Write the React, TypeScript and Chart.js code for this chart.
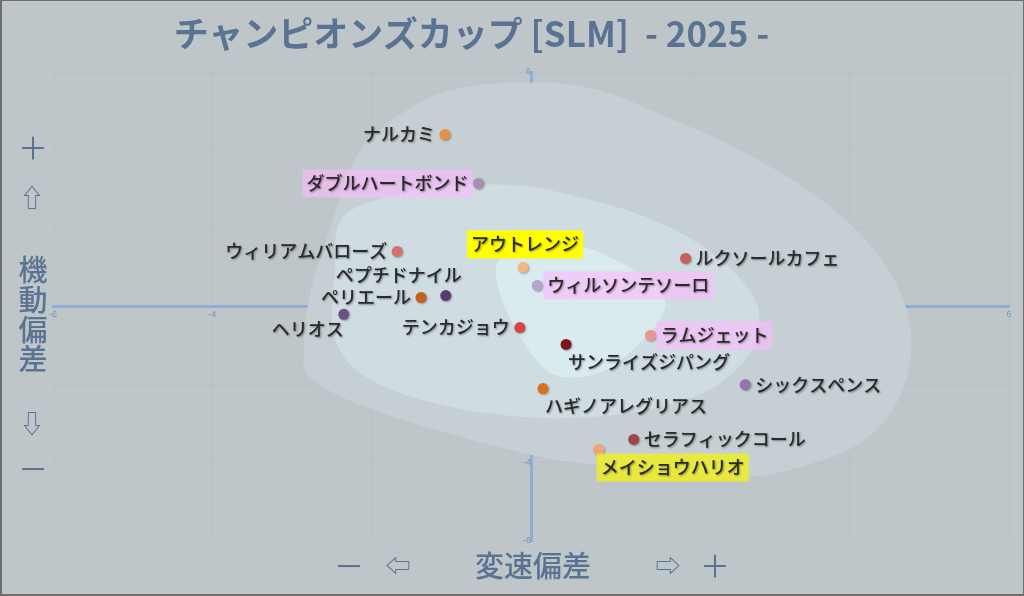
import { useEffect, useRef } from "react"
import { Chart, registerables } from "chart.js"

Chart.register(...registerables)

// horses: name, x = 変速偏差, y = 機動偏差
const names = [
  "ナルカミ", "ダブルハートボンド", "ウィリアムバローズ", "アウトレンジ",
  "ルクソールカフェ", "ウィルソンテソーロ", "ペプチドナイル", "ペリエール",
  "ヘリオス", "テンカジョウ", "ラムジェット", "サンライズジパング",
  "シックスペンス", "ハギノアレグリアス", "セラフィックコール", "メイショウハリオ",
]
const xs = [-1.08, -0.66, -1.68, -0.1, 1.94, 0.08, -1.07, -1.38, -2.35, -0.14, 1.5, 0.44, 2.69, 0.15, 1.29, 0.85]
const ys = [4.4, 3.15, 1.41, 1.0, 1.23, 0.54, 0.28, 0.23, -0.2, -0.54, -0.74, -0.97, -2.0, -2.1, -3.4, -3.66]
const pointColors = [
  "#E39049", "#A88DB4", "#D27371", "#F5B482", "#C9605E", "#B8A4CC", "#5A3B69", "#C8611C",
  "#6C5283", "#D44545", "#EB9590", "#7A1717", "#9474AC", "#D6711F", "#A34343", "#EBA778",
]
const placements = [
  "left", "left", "left", "above", "right", "right", "aboveLeft", "left",
  "belowLeft", "left", "right", "belowRight", "right", "belowRight", "right", "belowRight",
]
const highlights = [
  "", "rgba(255,185,255,0.6)", "", "#FFFF00", "", "rgba(255,185,255,0.6)", "", "",
  "", "", "rgba(255,185,255,0.6)", "", "", "", "", "rgba(240,240,30,0.8)",
]

// density contours (outer -> inner)
const outerX = [0.05, -0.98, -1.74, -2.21, -2.51, -2.77, -2.85, -2.74, -1.89, -0.01, 1.03, 2.28, 3.12, 4.14, 4.65, 4.76, 4.4, 3.64, 2.61, 1.58, 0.82]
const outerY = [5.73, 5.55, 4.78, 3.76, 2.05, 0.36, -1.1, -1.87, -2.71, -3.79, -4.09, -4.35, -4.25, -3.48, -2.2, -0.51, 1.2, 2.74, 4.02, 4.96, 5.55]
const middleX = [-2.33, -1.39, -0.39, 0.36, 1.37, 2.12, 2.69, 2.87, 2.69, 2.12, 1.12, -0.01, -1.14, -2.02, -2.46, -2.46]
const middleY = [2.35, 2.99, 3.12, 2.92, 2.35, 1.59, 0.56, -0.33, -1.36, -2.25, -2.76, -2.84, -2.51, -1.87, -0.84, 0.95]
const innerX = [-0.39, 0.03, 0.65, 1.28, 1.66, 1.62, 1.28, 0.87, 0.36, 0.03, -0.3, -0.43]
const innerY = [1.2, 1.66, 1.53, 0.95, 0.26, -0.33, -1.1, -1.69, -1.79, -1.28, -0.15, 0.69]
const contourColors = ["#C6D0D4", "#CFDCE1", "#DAEBF0"]

const TEXT = "#5B7393"
const LABEL_FONT = "500 18px 'Noto Sans CJK JP', sans-serif"

const contourPlugin = {
  id: "contours",
  beforeDatasetsDraw(chart: any) {
    const { ctx, chartArea, scales } = chart
    const shapes = [
      [outerX, outerY],
      [middleX, middleY],
      [innerX, innerY],
    ]
    ctx.save()
    ctx.beginPath()
    ctx.rect(chartArea.left, chartArea.top, chartArea.right - chartArea.left, chartArea.bottom - chartArea.top)
    ctx.clip()
    shapes.forEach(([sx, sy], k) => {
      const pts = sx.map((v, i) => [scales.x.getPixelForValue(v), scales.y.getPixelForValue(sy[i])])
      const n = pts.length
      ctx.beginPath()
      ctx.moveTo(pts[0][0], pts[0][1])
      for (let i = 0; i < n; i++) {
        const p0 = pts[(i - 1 + n) % n]
        const p1 = pts[i]
        const p2 = pts[(i + 1) % n]
        const p3 = pts[(i + 2) % n]
        ctx.bezierCurveTo(
          p1[0] + (p2[0] - p0[0]) / 6, p1[1] + (p2[1] - p0[1]) / 6,
          p2[0] - (p3[0] - p1[0]) / 6, p2[1] - (p3[1] - p1[1]) / 6,
          p2[0], p2[1]
        )
      }
      ctx.closePath()
      ctx.fillStyle = contourColors[k]
      ctx.fill()
    })
    ctx.restore()
  },
}

const labelPlugin = {
  id: "pointLabels",
  afterDatasetsDraw(chart: any) {
    const { ctx } = chart
    const meta = chart.getDatasetMeta(0)
    ctx.save()
    ctx.font = LABEL_FONT
    ctx.textBaseline = "middle"
    names.forEach((name, i) => {
      const el = meta.data[i]
      const px = el.x
      const py = el.y
      const w = ctx.measureText(name).width
      let tx = px + 10
      let ty = py
      switch (placements[i]) {
        case "left": tx = px - 10 - w; break
        case "above": tx = px - w / 2 + 2; ty = py - 23; break
        case "aboveLeft": tx = px - w + 16; ty = py - 20; break
        case "belowLeft": tx = px - w; ty = py + 15; break
        case "belowRight": tx = px + 2; ty = py + 18; break
      }
      if (highlights[i]) {
        ctx.fillStyle = highlights[i]
        ctx.fillRect(tx - 4, ty - 14, w + 8, 28)
      }
      ctx.shadowColor = "rgba(0,0,0,0.4)"
      ctx.shadowBlur = 2
      ctx.shadowOffsetX = 1
      ctx.shadowOffsetY = 1
      ctx.fillStyle = "#2A2A2A"
      ctx.fillText(name, tx, ty)
      ctx.shadowColor = "transparent"
    })
    ctx.restore()
  },
}

const pointShadowPlugin = {
  id: "pointShadow",
  beforeDatasetDraw(chart: any) {
    const { ctx } = chart
    ctx.save()
    ctx.shadowColor = "rgba(0,0,0,0.3)"
    ctx.shadowBlur = 2
    ctx.shadowOffsetX = 1
    ctx.shadowOffsetY = 1
  },
  afterDatasetDraw(chart: any) {
    chart.ctx.restore()
  },
}

function ScatterChart() {
  const canvasRef = useRef<HTMLCanvasElement>(null)

  useEffect(() => {
    if (!canvasRef.current) return
    const chart = new Chart(canvasRef.current, {
      type: "scatter",
      data: {
        datasets: [
          {
            label: "偏差",
            data: xs.map((x, i) => ({ x, y: ys[i] })),
            pointBackgroundColor: pointColors,
            pointBorderWidth: 0,
            pointRadius: 5.5,
          },
        ],
      },
      options: {
        animation: false,
        responsive: true,
        maintainAspectRatio: false,
        layout: { padding: { left: 53, right: 15, top: 72, bottom: 55 } },
        plugins: { legend: { display: false }, tooltip: { enabled: false } },
        scales: {
          x: {
            type: "linear",
            min: -6,
            max: 6,
            position: { y: 0 },
            ticks: { stepSize: 2, color: "#7F93AE", font: { size: 9 }, padding: 3 },
            grid: { color: "rgba(150,170,200,0.16)", drawTicks: false },
            border: { color: "#8EADD9", width: 3 },
          },
          y: {
            type: "linear",
            min: -6,
            max: 6,
            position: { x: 0 },
            ticks: { stepSize: 2, color: "#7F93AE", font: { size: 9 }, padding: 4 },
            grid: { color: "rgba(150,170,200,0.16)", drawTicks: false },
            border: { color: "#8EADD9", width: 3 },
          },
        },
      },
      plugins: [contourPlugin, pointShadowPlugin, labelPlugin],
    })
    return () => chart.destroy()
  }, [])

  return <canvas ref={canvasRef} />
}

const charStyle = (x: number, y: number, size: number, weight = 400): React.CSSProperties => ({
  position: "absolute",
  left: x,
  top: y,
  transform: "translate(-50%, -50%)",
  fontSize: size,
  fontWeight: weight,
  color: TEXT,
  lineHeight: 1,
  whiteSpace: "nowrap",
})

export default function App() {
  return (
    <div
      style={{
        position: "fixed",
        left: 0,
        top: 0,
        width: 1024,
        height: 596,
        background: "#BEC6C9",
        fontFamily: "'Noto Sans CJK JP', sans-serif",
        boxSizing: "border-box",
        overflow: "hidden",
      }}
    >
      <div style={{ position: "absolute", inset: 0 }}>
        <ScatterChart />
      </div>
      <div
        style={{
          position: "absolute",
          left: 0,
          width: 943,
          top: 14,
          textAlign: "center",
          fontSize: 35,
          fontWeight: 700,
          color: TEXT,
          lineHeight: 1,
          fontFamily: "'Liberation Sans Narrow', 'Noto Sans CJK JP', sans-serif",
          whiteSpace: "pre",
        }}
      >
        <span style={{ fontFamily: "'Noto Sans CJK JP', sans-serif" }}>チャンピオンズカップ</span> [SLM]  - 2025 -
      </div>
      <div style={charStyle(33, 146, 30, 400)}>＋</div>
      <div style={charStyle(32, 196, 25)}>⇧</div>
      <div style={charStyle(33, 268, 29, 500)}>機</div>
      <div style={charStyle(33, 298, 29, 500)}>動</div>
      <div style={charStyle(33, 328, 29, 500)}>偏</div>
      <div style={charStyle(33, 357, 29, 500)}>差</div>
      <div style={charStyle(32, 422, 25)}>⇩</div>
      <div style={charStyle(33, 467, 30, 400)}>－</div>
      <div style={charStyle(349, 564, 30, 400)}>－</div>
      <div style={charStyle(398, 564, 25)}>⇦</div>
      <div style={charStyle(533, 564, 29, 500)}>変速偏差</div>
      <div style={charStyle(668, 564, 25)}>⇨</div>
      <div style={charStyle(715, 564, 30, 400)}>＋</div>
      <div
        style={{
          position: "absolute",
          inset: 0,
          border: "1px solid #6E6E6E",
          borderBottomWidth: 2,
          borderLeftWidth: 2,
          pointerEvents: "none",
        }}
      />
    </div>
  )
}
